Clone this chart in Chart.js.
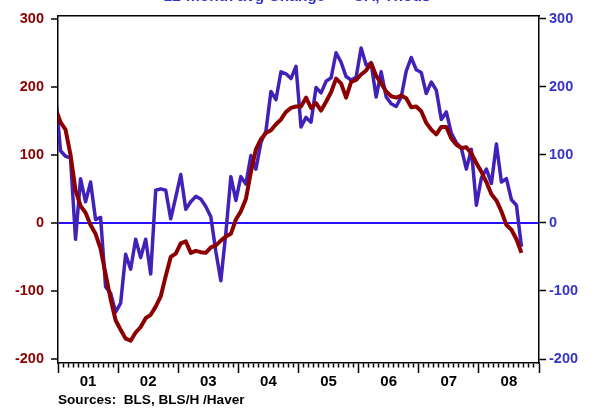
<!DOCTYPE html>
<html><head><meta charset="utf-8">
<script src="https://cdn.jsdelivr.net/npm/chart.js@4.4.1/dist/chart.umd.min.js"></script>
<style>html,body{margin:0;padding:0;background:#fff;overflow:hidden}</style>
</head><body>
<canvas id="c" width="594" height="410"></canvas>
<script>
// ---- data (monthly, index 0 = Jan 2001; first value = Dec 2000, clipped at the left frame) ----
const firstMonth = -1;
const yearLabels = ['01','02','03','04','05','06','07','08'];
const yTicks = [-200,-100,0,100,200,300];
const payroll = [168,
 148,137,100,48,25,15,-3,-16,-38,-75,-112,-143,
 -157,-170,-173,-161,-153,-140,-135,-123,-108,-78,-50,-45,
 -30,-27,-44,-41,-43,-44,-36,-33,-26,-20,-16,5,
 17,35,75,108,123,132,136,145,152,163,169,171,
 171,184,169,176,165,178,192,212,205,184,207,210,
 218,224,235,216,205,193,186,184,187,183,170,171,
 164,147,137,130,141,141,124,115,110,111,102,88,
 75,60,42,33,17,-3,-10,-24,-44];
const household = [190,
 106,98,95,-24,65,31,60,5,8,-94,-103,-131,
 -118,-46,-68,-24,-51,-24,-75,48,50,48,6,38,
 71,20,31,39,35,24,9,-42,-85,-15,68,33,
 68,57,99,79,118,135,193,181,222,219,212,230,
 141,155,148,199,191,208,213,250,236,215,210,214,
 257,232,234,185,222,185,175,171,185,223,243,225,
 221,190,207,195,152,163,132,118,110,79,108,26,
 66,79,58,116,60,65,34,26,-35];
const titleText = '12-month avg Change  --  CA, Thous';
const sourceText = 'Sources:  BLS, BLS/H /Haver';

// ---- fonts ----
function hasFont(name){
  const c=document.createElement('canvas').getContext('2d');
  const t='Sources: BLS 0123456789 Change';
  let same=true;
  for(const fb of ['monospace','serif']){
    c.font='bold 40px '+fb; const a=c.measureText(t).width;
    c.font='bold 40px "'+name+'", '+fb; const b=c.measureText(t).width;
    if(a!==b) same=false;
  }
  return !same;
}
let FAM, SZ;
if (hasFont('Liberation Sans Narrow')) { FAM="'Liberation Sans Narrow'"; SZ={tick:16,year:17,title:18.5,src:16.5}; }
else if (hasFont('Arial Narrow')) { FAM="'Arial Narrow'"; SZ={tick:16,year:17,title:18.5,src:16.5}; }
else { FAM="'Liberation Sans', Arial, sans-serif"; SZ={tick:14.5,year:15,title:15.5,src:13.6}; }
const f = (s)=>({family:FAM, size:s, weight:'bold', lineHeight:1.2});

const RED='#8c0000', BLUE_LINE='#4221b8', BLUE_TXT='#3434cc', ZERO='#2a10f5';
const toPts = arr => arr.map((v,i)=>({x:firstMonth+i, y:v}));
const YMIN=-205.8, YMAX=304.4, XMIN=-0.5, XMAX=95.5;

new Chart(document.getElementById('c'), {
  type:'line',
  data:{datasets:[
    {label:'Payroll', data:toPts(payroll), yAxisID:'y', borderColor:RED, borderWidth:4,
     pointRadius:0, tension:0, borderJoinStyle:'round', clip:0},
    {label:'Household', data:toPts(household), yAxisID:'y2', borderColor:BLUE_LINE, borderWidth:3.5,
     pointRadius:0, tension:0, borderJoinStyle:'round', clip:0}
  ]},
  options:{
    responsive:false, animation:false, devicePixelRatio:1,
    layout:{padding:0},
    plugins:{
      legend:{display:false}, tooltip:{enabled:false},
      title:{display:true, text:titleText, color:BLUE_TXT, font:{...f(SZ.title), lineHeight:1},
        padding:{top:-15, bottom:8-SZ.title+15}},
      subtitle:{display:true, text:sourceText, position:'bottom', align:'start', fullSize:false,
        color:'#000', font:{...f(SZ.src), lineHeight:1}, padding:{top:0,bottom:17-SZ.src}}
    },
    scales:{
      x:{type:'linear', position:'bottom', min:XMIN, max:XMAX,
        afterBuildTicks:s=>{ const t=[]; for(let k=0;k<=96;k++) t.push({value:XMIN+k}); s.ticks=t; },
        afterFit:s=>{ s.height=30; },
        ticks:{autoSkip:false, maxRotation:0, minRotation:0, labelOffset:30, padding:0, color:'#000', font:f(SZ.year),
          callback:(v,i)=> (i%12===0 && i<96) ? yearLabels[i/12] : ''},
        grid:{drawOnChartArea:false, drawTicks:true, tickLength:10, tickColor:'#000', tickWidth:1.5,
          tickBorderDash:ctx=> (ctx.index%12===0) ? [] : [4,40]},
        border:{display:true, color:'#000', width:1.5}
      },
      xTop:{type:'linear', position:'top', min:XMIN, max:XMAX,
        ticks:{display:false}, grid:{display:false}, afterFit:s=>{ s.height=4; },
        border:{display:true, color:'#000', width:1.5}
      },
      y:{type:'linear', position:'left', min:YMIN, max:YMAX,
        afterBuildTicks:s=>{ s.ticks=yTicks.map(v=>({value:v})); },
        afterFit:s=>{ s.width=58; },
        ticks:{color:RED, font:f(SZ.tick), padding:7, autoSkip:false},
        grid:{drawOnChartArea:true, lineWidth:2, color:ctx=> (ctx.tick && ctx.tick.value===0) ? ZERO : 'rgba(0,0,0,0)',
          tickColor:'#000', tickLength:7, tickWidth:1.5},
        border:{display:true, color:'#000', width:1.5}
      },
      y2:{type:'linear', position:'right', min:YMIN, max:YMAX,
        afterBuildTicks:s=>{ s.ticks=yTicks.map(v=>({value:v})); },
        afterFit:s=>{ s.width=55; },
        ticks:{color:BLUE_TXT, font:f(SZ.tick), padding:3, autoSkip:false},
        grid:{drawOnChartArea:false, tickColor:'#000', tickLength:7, tickWidth:1.5},
        border:{display:true, color:'#000', width:1.5}
      }
    }
  }
});
</script>
</body></html>
